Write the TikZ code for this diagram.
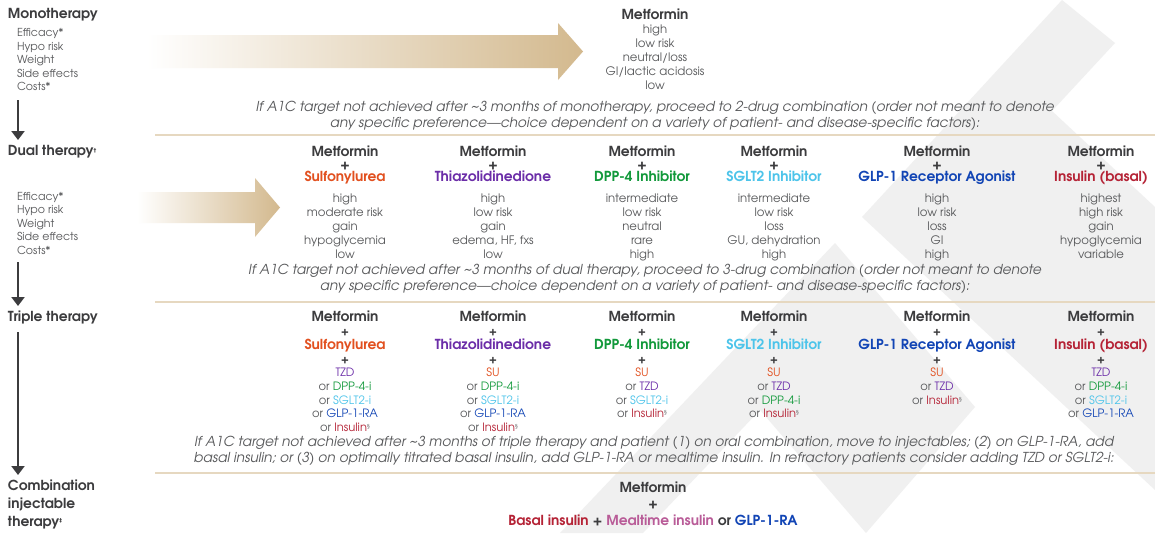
\documentclass[tikz,border=0pt]{standalone}
\usepackage{fontspec}
\setmainfont{TeX Gyre Adventor}
\newfontfamily\symf{DejaVu Sans}
\usetikzlibrary{arrows.meta}
\definecolor{txt}{HTML}{58595B}
\definecolor{head}{HTML}{3C3C3E}
\definecolor{cSU}{HTML}{E2501F}
\definecolor{cTZD}{HTML}{6B2DA8}
\definecolor{cDPP}{HTML}{12993B}
\definecolor{cSGLT}{HTML}{4DC4EA}
\definecolor{cGLP}{HTML}{1245B5}
\definecolor{cINS}{HTML}{B52336}
\definecolor{cMEAL}{HTML}{B95C98}
\definecolor{tanc}{HTML}{D3B98E}
\definecolor{sepc}{HTML}{E6D8C0}
\definecolor{wmc}{HTML}{F0F0F0}
\newcommand{\dg}{\raisebox{3.5pt}{\symf\fontsize{5.5}{5.5}\selectfont †}}
\newcommand{\ddg}{\raisebox{3.5pt}{\symf\fontsize{5.5}{5.5}\selectfont ‡}}
\newcommand{\sect}{\raisebox{3pt}{\symf\fontsize{5.5}{5.5}\selectfont §}}
\newcommand{\Ins}{\textcolor{cINS}{Insulin}\sect}
\newcommand{\hdf}{\fontsize{13.8}{13.7}\selectfont\bfseries}
\tikzset{
 every node/.style={inner sep=0pt, outer sep=0pt},
 lbl/.style={anchor=base west, font=\fontsize{13.8}{14}\selectfont\bfseries, text=head},
 crit/.style={anchor=north west, align=left, font=\fontsize{11}{13.6}\selectfont, text=txt},
 hd/.style={anchor=north, align=center, font=\fontsize{13.8}{12.5}\selectfont\bfseries, text=head},
 body/.style={anchor=north, align=center, font=\fontsize{11.7}{14}\selectfont, text=txt},
 trip/.style={anchor=north, align=center, font=\fontsize{11.5}{13.7}\selectfont, text=txt},
 note/.style={anchor=north, align=center, font=\fontsize{13.7}{16}\selectfont\itshape, text=txt},
 sepline/.style={draw=sepc, line width=2pt},
 downarr/.style={draw=head, line width=2.5pt, -{Triangle[length=9pt,width=13pt]}},
 wmark/.style={fill=wmc, draw=none},
}
\begin{document}
\begin{tikzpicture}[x=1pt,y=-1pt]
\useasboundingbox (0,0) rectangle (1155,533);
\fill[white] (0,0) rectangle (1155,533);
% watermark
\fill[wmark] (1062,0) -- (862,217) -- (1155,490) -- (1155,207) -- (1052,111) -- (1115,43) -- cycle;
\fill[wmark] (835,243) -- (560,533) -- (643,533) -- (760,410) -- (866,533) -- (975,407) -- cycle;
% gradient arrows
\shade[left color=white, right color=tanc] (147,35) -- (558,35) -- (558,23) -- (583,51.5) -- (558,80) -- (558,68) -- (147,68) -- cycle;
\shade[left color=white, right color=tanc] (137,192) -- (255,192) -- (255,178) -- (280,207.5) -- (255,237) -- (255,223) -- (137,223) -- cycle;
% left labels
\node[lbl] (mono) at (8,18.5) {Monotherapy};
\node[crit] (crit1) at (17,27) {\strut Efficacy*\\Hypo risk\\Weight\\Side effects\\Costs*};
\node[lbl] (dual) at (8,155.5) {Dual therapy\dg};
\node[crit] (crit2) at (17,190.5) {\strut Efficacy*\\Hypo risk\\Weight\\Side effects\\Costs*};
\node[lbl] (triple) at (8,321.5) {Triple therapy};
\node[lbl, anchor=north west, align=left, font=\fontsize{13.8}{18}\selectfont\bfseries] (comb) at (8,477.4) {\strut Combination\\injectable\\therapy\ddg};
\coordinate (a1s) at (18,100); \coordinate (a1e) at (18,140);
\coordinate (a2s) at (18,262); \coordinate (a2e) at (18,306);
\coordinate (a3s) at (18,332); \coordinate (a3e) at (18,475);
\draw[downarr] (a1s) -- (a1e);
\draw[downarr] (a2s) -- (a2e);
\draw[downarr] (a3s) -- (a3e);
% monotherapy
\node[body] (metmono) at (655,9.2) {\strut{\color{head}\fontsize{13.8}{14}\selectfont\bfseries Metformin}\\high\\low risk\\neutral/loss\\GI/lactic acidosis\\low};
\node[note] (note1) at (655,99.8) {\strut If A1C target not achieved after \textasciitilde3 months of monotherapy, proceed to 2-drug combination (order not meant to denote\\any specific preference---choice dependent on a variety of patient- and disease-specific factors):};
\coordinate (s1a) at (155,135); \coordinate (s1b) at (1155,135);
\draw[sepline] (s1a) -- (s1b);
% dual therapy
\node[hd] (d1) at (345,146.25) {\strut Metformin\\+\\\textcolor{cSU}{Sulfonylurea}};
\node[hd] (d2) at (493,146.25) {\strut Metformin\\+\\\textcolor{cTZD}{Thiazolidinedione}};
\node[hd] (d3) at (642,146.25) {\strut Metformin\\+\\\textcolor{cDPP}{DPP-4 Inhibitor}};
\node[hd] (d4) at (774,146.25) {\strut Metformin\\+\\\textcolor{cSGLT}{SGLT2 Inhibitor}};
\node[hd] (d5) at (937,146.25) {\strut Metformin\\+\\\textcolor{cGLP}{GLP-1 Receptor Agonist}};
\node[hd] (d6) at (1101,146.25) {\strut Metformin\\+\\\textcolor{cINS}{Insulin (basal)}};
\node[body] (b1) at (345,192.2) {\strut high\\moderate risk\\gain\\hypoglycemia\\low};
\node[body] (b2) at (493,192.2) {\strut high\\low risk\\gain\\edema, HF, fxs\\low};
\node[body] (b3) at (642,192.2) {\strut intermediate\\low risk\\neutral\\rare\\high};
\node[body] (b4) at (774,192.2) {\strut intermediate\\low risk\\loss\\GU, dehydration\\high};
\node[body] (b5) at (937,192.2) {\strut high\\low risk\\loss\\GI\\high};
\node[body] (b6) at (1101,192.2) {\strut highest\\high risk\\gain\\hypoglycemia\\variable};
\node[note] (note2) at (645,262.8) {\strut If A1C target not achieved after \textasciitilde3 months of dual therapy, proceed to 3-drug combination (order not meant to denote\\any specific preference---choice dependent on a variety of patient- and disease-specific factors):};
\coordinate (s2a) at (155,301.5); \coordinate (s2b) at (1155,301.5);
\draw[sepline] (s2a) -- (s2b);
% triple therapy
\node[trip] (t1) at (345,311.4) {\strut{\color{head}\hdf Metformin}\\{\bfseries\color{head}+}\\{\color{cSU}\hdf Sulfonylurea}\\{\bfseries\color{head}+}\\\textcolor{cTZD}{TZD}\\or \textcolor{cDPP}{DPP-4-i}\\or \textcolor{cSGLT}{SGLT2-i}\\or \textcolor{cGLP}{GLP-1-RA}\\or \Ins};
\node[trip] (t2) at (493,311.4) {\strut{\color{head}\hdf Metformin}\\{\bfseries\color{head}+}\\{\color{cTZD}\hdf Thiazolidinedione}\\{\bfseries\color{head}+}\\\textcolor{cSU}{SU}\\or \textcolor{cDPP}{DPP-4-i}\\or \textcolor{cSGLT}{SGLT2-i}\\or \textcolor{cGLP}{GLP-1-RA}\\or \Ins};
\node[trip] (t3) at (642,311.4) {\strut{\color{head}\hdf Metformin}\\{\bfseries\color{head}+}\\{\color{cDPP}\hdf DPP-4 Inhibitor}\\{\bfseries\color{head}+}\\\textcolor{cSU}{SU}\\or \textcolor{cTZD}{TZD}\\or \textcolor{cSGLT}{SGLT2-i}\\or \Ins};
\node[trip] (t4) at (774,311.4) {\strut{\color{head}\hdf Metformin}\\{\bfseries\color{head}+}\\{\color{cSGLT}\hdf SGLT2 Inhibitor}\\{\bfseries\color{head}+}\\\textcolor{cSU}{SU}\\or \textcolor{cTZD}{TZD}\\or \textcolor{cDPP}{DPP-4-i}\\or \Ins};
\node[trip] (t5) at (937,311.4) {\strut{\color{head}\hdf Metformin}\\{\bfseries\color{head}+}\\{\color{cGLP}\hdf GLP-1 Receptor Agonist}\\{\bfseries\color{head}+}\\\textcolor{cSU}{SU}\\or \textcolor{cTZD}{TZD}\\or \Ins};
\node[trip] (t6) at (1101,311.4) {\strut{\color{head}\hdf Metformin}\\{\bfseries\color{head}+}\\{\color{cINS}\hdf Insulin (basal)}\\{\bfseries\color{head}+}\\\textcolor{cTZD}{TZD}\\or \textcolor{cDPP}{DPP-4-i}\\or \textcolor{cSGLT}{SGLT2-i}\\or \textcolor{cGLP}{GLP-1-RA}};
\node[note] (note3) at (654,434.8) {\strut If A1C target not achieved after \textasciitilde3 months of triple therapy and patient (1) on oral combination, move to injectables; (2) on GLP-1-RA, add\\basal insulin; or (3) on optimally titrated basal insulin, add GLP-1-RA or mealtime insulin. In refractory patients consider adding TZD or SGLT2-i:};
\coordinate (s3a) at (155,472.5); \coordinate (s3b) at (1155,472.5);
\draw[sepline] (s3a) -- (s3b);
% combination injectable
\node[hd, font=\fontsize{13.8}{16.7}\selectfont\bfseries] (inj) at (653,480.3) {\strut Metformin\\+\\\textcolor{cINS}{Basal insulin} + \textcolor{cMEAL}{Mealtime insulin} or \textcolor{cGLP}{GLP-1-RA}};
\end{tikzpicture}
\end{document}
